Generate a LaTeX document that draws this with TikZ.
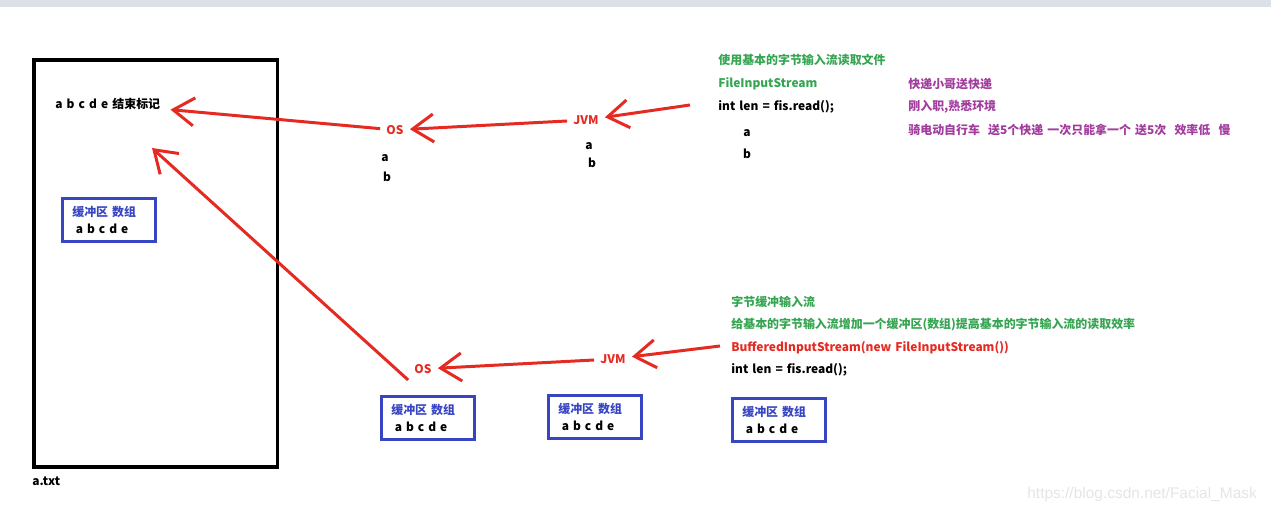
\documentclass[tikz,border=0pt]{standalone}
\usepackage{fontspec}
\setmainfont{Noto Sans CJK SC}[WordSpace=1.5]
\newfontfamily\markfont{Liberation Sans}
\usetikzlibrary{arrows.meta}
\definecolor{penRed}{HTML}{E52A22}
\definecolor{noteGreen}{HTML}{35A552}
\definecolor{notePurple}{HTML}{A23C9E}
\definecolor{bufBlue}{HTML}{3845C2}
\definecolor{barGray}{HTML}{DCE1E7}

\begin{document}
\begin{tikzpicture}[x=0.02cm, y=-0.02cm, font=\bfseries\fontsize{6.8}{8}\selectfont,
    txt/.style={inner sep=0pt, anchor=west},
    place/.style={text=penRed, inner sep=0.12cm},
    buf/.style={draw=bufBlue, line width=1.5pt, anchor=north west, minimum width=1.86cm,
      minimum height=0.86cm, text width=1.46cm, inner xsep=0.2cm, align=left,
      font=\bfseries\fontsize{6.8}{9.6}\selectfont},
    pen/.style={draw=penRed, line width=1.7pt, -{Straight Barb[length=0.42cm, width=0.56cm]}}]
    \useasboundingbox (0,0) rectangle (1271,513);
    \fill[barGray] (0,0) rectangle (1271,7);
    % --- file on disk ---
    \node[draw, line width=2pt, anchor=north west, minimum width=4.88cm,
      minimum height=8.14cm, inner sep=0pt] (txtfile) at (32,58.5) {};
    \node[txt] (fname) at (32,481) {a.txt};
    \node[txt, inner xsep=0.2cm] (eof) at (45,104) {a b c d e 结束标记};
    \node[buf] (bufF) at (61,197) {{\color{bufBlue}缓冲区 数组}\\\hspace{2pt}a b c d e};
    % --- FileInputStream: byte by byte ---
    \node[place] (osA) at (395,130) {OS};
    \node (osAa) at (385,158) {a};
    \node (osAb) at (387,177) {b};
    \node[place] (jvmA) at (586,120) {JVM};
    \node (jvmAa) at (589,146) {a};
    \node (jvmAb) at (592,163) {b};
    \coordinate (srcA) at (690,105);
    \node[txt, text=noteGreen] (titleA) at (718,60) {使用基本的字节输入流读取文件};
    \node[txt, text=noteGreen] (clsA) at (718,84) {FileInputStream};
    \node[txt] (readA) at (718,107) {int len = fis.read();};
    \node (readAa) at (747,133) {a};
    \node (readAb) at (747,154) {b};
    \node[txt, text=notePurple] (noteA1) at (908,84) {快递小哥送快递};
    \node[txt, text=notePurple] (noteA2) at (908,107) {刚入职,熟悉环境};
    \node[txt, text=notePurple] (noteA3) at (908,130) {骑电动自行车\ \ 送5个快递 一次只能拿一个 送5次\ \ 效率低\ \ 慢};
    \draw[pen] (srcA) -- (jvmA);
    \draw[pen] (jvmA) -- (osA);
    \draw[pen] (osA) -- (eof);
    % --- BufferedInputStream: whole array ---
    \node[place] (osB) at (423,369) {OS};
    \node[place] (jvmB) at (613,359) {JVM};
    \coordinate (srcB) at (720,346);
    \coordinate (bufTip) at (152,148);
    \node[buf] (bufOS) at (380,395) {{\color{bufBlue}缓冲区 数组}\\\hspace{2pt}a b c d e};
    \node[buf] (bufJVM) at (547,394) {{\color{bufBlue}缓冲区 数组}\\\hspace{2pt}a b c d e};
    \node[buf] (bufApp) at (731,397) {{\color{bufBlue}缓冲区 数组}\\\hspace{2pt}a b c d e};
    \node[txt, text=noteGreen] (titleB) at (731,302) {字节缓冲输入流};
    \node[txt, text=noteGreen] (noteB) at (731,325) {给基本的字节输入流增加一个缓冲区(数组)提高基本的字节输入流的读取效率};
    \node[txt, text=penRed] (clsB) at (731,348) {BufferedInputStream(new FileInputStream())};
    \node[txt] (readB) at (731,370) {int len = fis.read();};
    \draw[pen] (srcB) -- (jvmB);
    \draw[pen] (jvmB) -- (osB);
    \draw[pen] (osB.south west) -- (bufTip);
    \node[txt, text=black!10, font=\markfont\fontsize{8.8}{10}\selectfont] (mark) at (1027,494) {https://blog.csdn.net/Facial\_Mask};
  \end{tikzpicture}
\end{document}
